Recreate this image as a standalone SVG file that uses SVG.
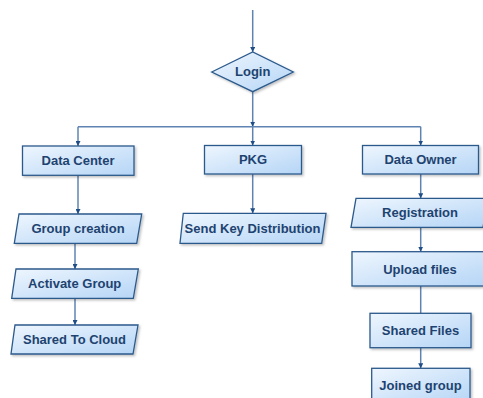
<svg xmlns="http://www.w3.org/2000/svg" width="483" height="398" viewBox="0 0 483 398">
<defs>
<linearGradient id="g" x1="0" y1="0" x2="1" y2="1">
<stop offset="0" stop-color="#eef6fe"/>
<stop offset="1" stop-color="#b5d5f6"/>
</linearGradient>
<filter id="sh" x="-10%" y="-10%" width="130%" height="140%">
<feDropShadow dx="1.5" dy="1.5" stdDeviation="1" flood-color="#000" flood-opacity="0.25"/>
</filter>
<marker id="ah" viewBox="0 0 8 8" refX="8" refY="4" markerWidth="5" markerHeight="5" orient="auto" markerUnits="userSpaceOnUse">
<path d="M0,0 L8,4 L0,8 z" fill="#1f4e86"/>
</marker>
</defs>
<style>
.n{fill:url(#g);stroke:#2c5a8c;stroke-width:1.3;filter:url(#sh)}
.t{font-family:"Liberation Sans",Arial,sans-serif;font-weight:bold;font-size:13px;fill:#1e4370;text-anchor:middle}
.c{fill:none;stroke:#5f84b2;stroke-width:1.5}
.a{marker-end:url(#ah)}
</style>
<rect width="483" height="398" fill="#fff"/>
<g id="connectors">
<path class="c a" d="M252.7,10 V52"/>
<path class="c a" d="M252.7,92 V126.7"/>
<path class="c" d="M78,126.7 H420.7"/>
<path class="c a" d="M78,126.7 V146"/>
<path class="c a" d="M252.7,126.7 V145.5"/>
<path class="c a" d="M420.7,126.7 V145.5"/>
<path class="c a" d="M78,175.3 V214"/>
<path class="c a" d="M75,243.3 V269"/>
<path class="c a" d="M75,298.3 V325"/>
<path class="c a" d="M252.7,174 V213.3"/>
<path class="c a" d="M420.7,174 V198.3"/>
<path class="c a" d="M420.7,227.3 V251.7"/>
<path class="c" d="M420.7,286 V313.3"/>
<path class="c a" d="M420.7,347.7 V368.3"/>
</g>
<g id="login">
<polygon class="n" points="211.7,72 252.7,52 293.3,72 252.7,91.7"/>
<text class="t" x="252.7" y="76">Login</text>
</g>
<g id="data-center">
<rect class="n" x="22.5" y="146" width="111.5" height="29.3"/>
<text class="t" x="78" y="165">Data Center</text>
</g>
<g id="pkg">
<rect class="n" x="204.5" y="145.5" width="97" height="28.5"/>
<text class="t" x="253" y="164.3">PKG</text>
</g>
<g id="data-owner">
<rect class="n" x="362.5" y="145.5" width="116" height="28.5"/>
<text class="t" x="420.5" y="164.3">Data Owner</text>
</g>
<g id="group-creation">
<polygon class="n" points="19,214 141.7,214 136.7,243.3 14.3,243.3"/>
<text class="t" x="78" y="233.3">Group creation</text>
</g>
<g id="activate-group">
<polygon class="n" points="16,269 138.3,269 133.3,298.3 11.7,298.3"/>
<text class="t" x="74.7" y="288.3">Activate Group</text>
</g>
<g id="shared-to-cloud">
<polygon class="n" points="15,325 138,325 133,354 11,354"/>
<text class="t" x="74.5" y="344">Shared To Cloud</text>
</g>
<g id="send-key-distribution">
<polygon class="n" points="183.3,213.3 326,213.3 321.7,243.3 180,243.3"/>
<text class="t" x="252.5" y="233">Send Key Distribution</text>
</g>
<g id="registration">
<polygon class="n" points="356,198.3 488,198.3 483,227.3 351,227.3"/>
<text class="t" x="420" y="217.3">Registration</text>
</g>
<g id="upload-files">
<rect class="n" x="352" y="251.7" width="136" height="34.3"/>
<text class="t" x="420" y="273.5">Upload files</text>
</g>
<g id="shared-files">
<rect class="n" x="370" y="313.3" width="101" height="34.4"/>
<text class="t" x="420.5" y="335">Shared Files</text>
</g>
<g id="joined-group">
<rect class="n" x="371.7" y="368.3" width="98.3" height="36"/>
<text class="t" x="420.5" y="390">Joined group</text>
</g>
</svg>
